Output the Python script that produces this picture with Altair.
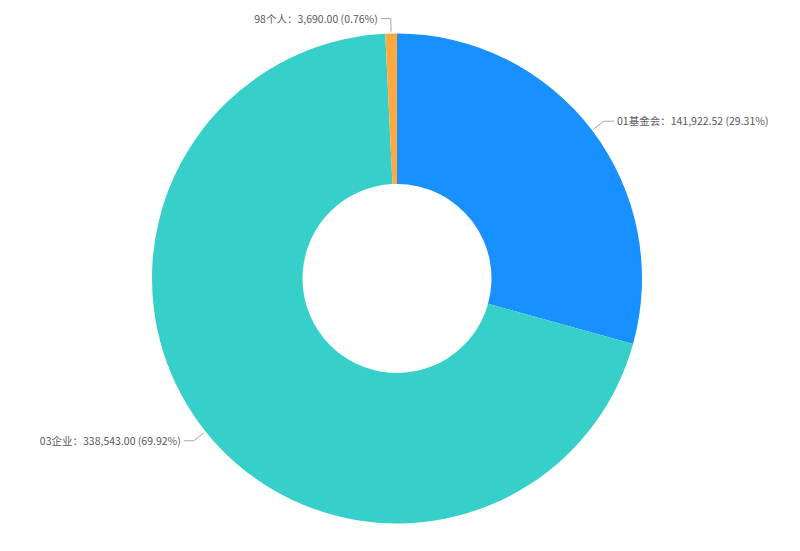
import math
import altair as alt
import pandas as pd

# ---- data ----
categories = ["01基金会", "03企业", "98个人"]
values = [141922.52, 338543.00, 3690.00]
percents = ["29.31%", "69.92%", "0.76%"]
colors = ["#1890FF", "#36CFC9", "#FFA940"]

W, H = 784, 535
CX, CY = 389, 270.5
R_OUT, R_IN = 245, 94.5

total = sum(values)
arc_df = pd.DataFrame({
    "cat": categories,
    "value": values,
    "order": list(range(len(categories))),
})

# leader lines and labels, derived from the slice angles
line_rows, left_rows, right_rows = [], [], []
cum = 0.0
for i, (c, v, p) in enumerate(zip(categories, values, percents)):
    mid = (cum + v / 2) / total * 2 * math.pi
    cum += v
    sx, sy = CX + (R_OUT + 2) * math.sin(mid), CY - (R_OUT + 2) * math.cos(mid)
    ex, ey = CX + (R_OUT + 15) * math.sin(mid), CY - (R_OUT + 15) * math.cos(mid)
    right = math.sin(mid) > 0.05
    hx = ex + (10 if right else -10)
    for k, (px, py) in enumerate([(sx, sy), (ex, ey), (hx, ey)]):
        line_rows.append({"cat": c, "k": k, "px": px, "py": py})
    label = f"{c}：{v:,.2f} ({p})"
    row = {"label": label, "px": hx + (3 if right else -3), "py": ey + 1}
    (right_rows if right else left_rows).append(row)

line_df = pd.DataFrame(line_rows)
left_df = pd.DataFrame(left_rows)
right_df = pd.DataFrame(right_rows)

xs = alt.Scale(domain=[0, W], range=[0, W])
ys = alt.Scale(domain=[0, H], range=[0, H])

arcs = alt.Chart(arc_df).mark_arc(
    outerRadius=R_OUT, innerRadius=R_IN
).encode(
    theta=alt.Theta("value:Q", stack=True),
    color=alt.Color("cat:N", scale=alt.Scale(domain=categories, range=colors), legend=None),
    order=alt.Order("order:Q"),
    x=alt.value(CX),
    y=alt.value(CY),
)

lines = alt.Chart(line_df).mark_line(color="#a6a6a6", strokeWidth=1).encode(
    x=alt.X("px:Q", scale=xs, axis=None),
    y=alt.Y("py:Q", scale=ys, axis=None),
    detail="cat:N",
    order="k:Q",
)

txt_kw = dict(font="Noto Sans CJK SC", fontSize=10.5, color="#595959", baseline="middle")
ltext = alt.Chart(left_df).mark_text(align="right", **txt_kw).encode(
    x=alt.X("px:Q", scale=xs, axis=None),
    y=alt.Y("py:Q", scale=ys, axis=None),
    text="label:N",
)
rtext = alt.Chart(right_df).mark_text(align="left", **txt_kw).encode(
    x=alt.X("px:Q", scale=xs, axis=None),
    y=alt.Y("py:Q", scale=ys, axis=None),
    text="label:N",
)

chart = alt.layer(arcs, lines, ltext, rtext).properties(
    width=W, height=H, padding=0, autosize=alt.AutoSizeParams(type="none")
).configure_view(stroke=None)

chart.save("out.html", embed_options={"renderer": "svg", "actions": False})
